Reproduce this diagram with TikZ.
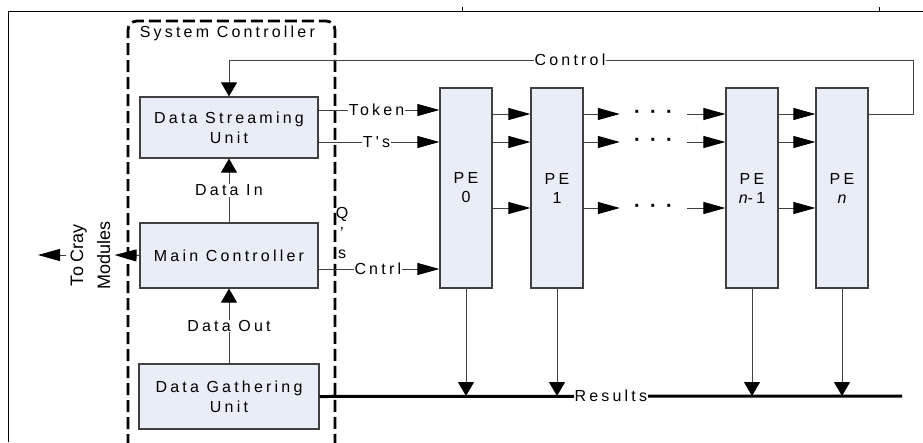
\documentclass[tikz,border=0pt]{standalone}
\usepackage{fontspec}
\setmainfont{Liberation Sans}
\newfontfamily\spaced[LetterSpace=20]{Liberation Sans}
\usetikzlibrary{arrows.meta}
\definecolor{UnitFill}{HTML}{E8EDF7}
\definecolor{UnitLine}{HTML}{404040}
\definecolor{WireGray}{HTML}{404040}

\begin{document}
\begin{tikzpicture}[x=1pt,y=-1pt,
  unit/.style={draw=UnitLine,fill=UnitFill,line width=1.2pt,inner sep=0pt,
    align=center,font=\spaced\fontsize{16}{20}\selectfont},
  pe/.style={unit,minimum width=52pt,minimum height=200pt,
    font=\spaced\fontsize{16}{19}\selectfont},
  wire/.style={WireGray,line width=1pt},
  arrh/.style={wire,-{Triangle[length=22pt,width=12pt,color=black]}},
  arrv/.style={wire,-{Triangle[length=14pt,width=16pt,color=black]}},
  lab/.style={fill=white,text=black,inner sep=0.6pt,font=\spaced\fontsize{16}{20}\selectfont},
  dots/.style={minimum width=67pt,inner sep=0pt,font=\bfseries\fontsize{20}{20}\selectfont},
  sysbox/.style={line width=2.8pt,dash pattern=on 12pt off 5pt,rounded corners=9pt}]
  \useasboundingbox (0,0) rectangle (923,442);
  \draw[line width=1pt] (923,11) -- (8,11) -- (8,442);
  \draw[line width=1pt] (462,11) -- (462,7) (879,11) -- (879,7);
  \draw[sysbox] (128,446) -- (128,21) -- (335,21) -- (335,446);
  \node[lab,anchor=west,fill=none] (sysc) at (139,33) {System Controller};

  \node[unit,minimum width=178pt,minimum height=61pt] (DSU) at (229,127.5) {Data Streaming\\Unit};
  \node[unit,minimum width=178pt,minimum height=65pt] (MC) at (229,255.5) {Main Controller};
  \node[unit,minimum width=180pt,minimum height=65pt] (DGU) at (229,396.5) {Data Gathering\\Unit};

  \node[pe] (P0) at (466,188) {PE\\0};
  \node[pe] (P1) at (557,188) {PE\\1};
  \node[pe] (Pm) at (752,188) {PE\\{\itshape n}-1};
  \node[pe] (Pn) at (842,188) {PE\\{\itshape n}};

  \coordinate (tk) at (0,110);
  \coordinate (cn) at (0,269);
  \coordinate (bus) at (0,396);
  \coordinate (busend) at (902,396);
  \coordinate (c1) at (913,114);
  \coordinate (c2) at (229,60);
  \coordinate (cr) at (38,255);

  \foreach \i/\y in {1/114,2/142,3/208}{
    \node[dots] (dt\i) at (653.5,\y) {·\hspace{9.4pt}·\hspace{9.4pt}·};
    \draw[arrh] (P0.east |- dt\i) -- (P1.west |- dt\i);
    \draw[arrh] (P1.east |- dt\i) -- (dt\i.west);
    \draw[arrh] (dt\i.east) -- (Pm.west |- dt\i);
    \draw[arrh] (Pm.east |- dt\i) -- (Pn.west |- dt\i);
  }

  \draw[arrh] (DSU.east |- tk) -- (P0.west |- tk) node[lab,pos=0.48] {Token};
  \draw[arrh] (DSU.east |- dt2) -- (P0.west |- dt2) node[lab,pos=0.48] {T's};
  \draw[arrh] (MC.east |- cn) -- (P0.west |- cn) node[lab,pos=0.49] {Cntrl};
  \draw[arrv] (Pn.east |- dt1) -- (c1) |- (c2) -- (DSU.north);
  \node[lab] (ctl) at (570,60) {Control};
  \draw[arrv] (MC.north) -- (DSU.south) node[lab,midway] {Data In};
  \draw[arrv] (DGU.north) -- (MC.south) node[lab,midway] {Data Out};

  \draw[line width=3pt] (DGU.east) -- (busend) node[lab,midway] {Results};
  \foreach \p in {P0,P1,Pm,Pn}{
    \draw[arrv] (\p.south) -- (\p.south |- bus);
  }

  \node[font=\fontsize{18}{27}\selectfont,rotate=90,align=center,inner sep=4pt] (cray) at (90.5,255) {To Cray\\Modules};
  \draw[arrh] (MC.west) -- (cray.south);
  \draw[arrh] (cray.north) -- (cr);
  \node[font=\fontsize{16}{20}\selectfont,align=center,inner sep=0pt] (qs) at (342,233) {Q\\'\\s};
\end{tikzpicture}
\end{document}
